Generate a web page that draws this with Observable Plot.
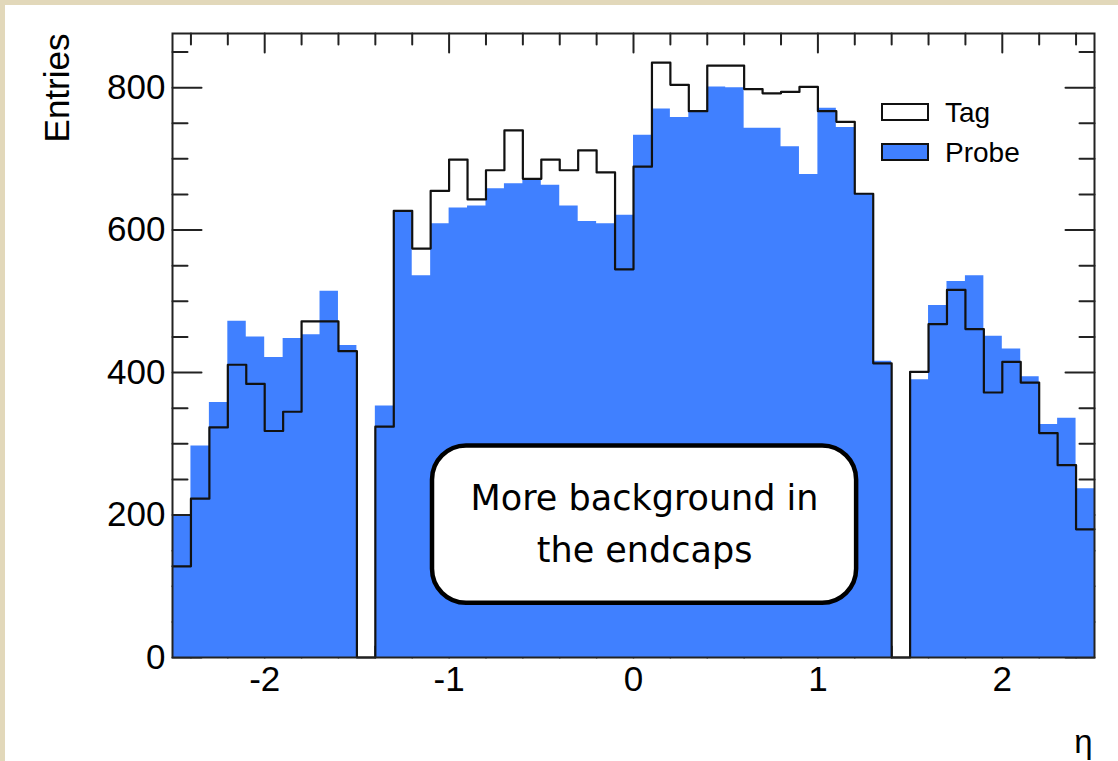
<!DOCTYPE html>
<html>
<head>
<meta charset="utf-8">
<script src="https://cdn.jsdelivr.net/npm/d3@7"></script>
<script src="https://cdn.jsdelivr.net/npm/@observablehq/plot@0.6"></script>
<style>
  html, body { margin: 0; padding: 0; }
  body { background: #e2d8ba; width: 1118px; height: 761px; overflow: hidden; position: relative; }
  #chart { position: absolute; left: 5px; top: 5px; width: 1113px; height: 756px; background: #ffffff; }
  #chart svg { display: block; background: #ffffff; }
</style>
</head>
<body>
<div id="chart"></div>
<script>
// Histogram binning (eta)
const etaMin = -2.5, etaMax = 2.5, nBins = 50;

// Bin contents (50 bins of 0.1 in eta)
const probe = [198, 297, 358, 472, 450, 421, 448, 453, 514, 438,
               0, 353, 627, 536, 609, 631, 634, 658, 665, 670,
               663, 634, 612, 609, 621, 733, 770, 758, 767, 801,
               800, 743, 743, 717, 678, 771, 744, 651, 416, 0,
               390, 494, 528, 536, 451, 433, 394, 327, 336, 237];
const tag   = [128, 223, 323, 411, 384, 318, 345, 472, 472, 430,
               0, 324, 627, 574, 655, 699, 643, 684, 740, 672,
               699, 684, 712, 681, 545, 689, 835, 804, 767, 831,
               831, 798, 792, 794, 801, 767, 752, 651, 413, 0,
               401, 468, 516, 461, 372, 415, 386, 315, 270, 180];

// Axis ticks
const yMajor = [0, 200, 400, 600, 800];
const yMinor = [50, 100, 150, 250, 300, 350, 450, 500, 550, 650, 700, 750, 850];
const xMajor = [-2, -1, 0, 1, 2];
const xMinor = [-2.4, -2.2, -1.8, -1.6, -1.4, -1.2, -0.8, -0.6, -0.4, -0.2,
                0.2, 0.4, 0.6, 0.8, 1.2, 1.4, 1.6, 1.8, 2.2, 2.4];
const yMax = 876;

const seriesNames = ["Tag", "Probe"];
const noteLines = "More background in\nthe endcaps";
// annotation box (data units)
const noteBox = {x1: -1.09, x2: 1.21, y1: 76, y2: 297};

const binW = (etaMax - etaMin) / nBins;
const edges = d3.range(nBins + 1).map(i => +(etaMin + i * binW).toFixed(3));
const probePts = edges.map((x, i) => ({x, y: probe[Math.min(i, nBins - 1)]}));
const tagPts = edges.map((x, i) => ({x, y: tag[Math.min(i, nBins - 1)]}));

const tickShape = {draw(context, l) { context.moveTo(0, 0); context.lineTo(0, -l); }};
const tickStyle = {stroke: "#222", strokeWidth: 2, shape: tickShape, anchor: "start"};

const font = "'Liberation Sans', Arial, Helvetica, sans-serif";

const plot = Plot.plot({
  width: 1113,
  height: 756,
  marginLeft: 167,
  marginRight: 24,
  marginTop: 28,
  marginBottom: 104,
  style: {fontFamily: font, background: "#ffffff", color: "#000"},
  x: {domain: [etaMin, etaMax]},
  y: {domain: [0, yMax]},
  marks: [
    // ticks (drawn under the histograms)
    Plot.vector(yMajor, {x: etaMin, y: d => d, rotate: 90, length: 29, ...tickStyle}),
    Plot.vector(yMinor, {x: etaMin, y: d => d, rotate: 90, length: 15, ...tickStyle}),
    Plot.vector(yMajor, {x: etaMax, y: d => d, rotate: -90, length: 29, ...tickStyle}),
    Plot.vector(yMinor, {x: etaMax, y: d => d, rotate: -90, length: 15, ...tickStyle}),
    Plot.vector(xMajor, {x: d => d, y: yMax, rotate: 180, length: 19, ...tickStyle}),
    Plot.vector(xMinor, {x: d => d, y: yMax, rotate: 180, length: 11, ...tickStyle}),
    Plot.vector(xMajor, {x: d => d, y: 0, rotate: 0, length: 19, ...tickStyle}),
    Plot.vector(xMinor, {x: d => d, y: 0, rotate: 0, length: 11, ...tickStyle}),
    // Probe: filled histogram
    Plot.areaY(probePts, {x: "x", y: "y", curve: "step-after", fill: "#4080ff"}),
    // Tag: outline histogram
    Plot.line(tagPts, {x: "x", y: "y", curve: "step-after", stroke: "#111", strokeWidth: 2.2}),
    Plot.frame({stroke: "#222", strokeWidth: 2}),
    Plot.axisY({ticks: yMajor, tickSize: 0, tickPadding: 7, fontSize: 35, label: null, tickFormat: d => String(d)}),
    Plot.axisX({ticks: xMajor, tickSize: 0, tickPadding: 9, fontSize: 35, label: null, tickFormat: d => String(d)}),
    Plot.text(["Entries"], {text: d => d, frameAnchor: "top-left", rotate: -90, textAnchor: "end",
      dx: -128, dy: 0, fontSize: 35, fill: "#000"}),
    Plot.text(["\u03b7"], {text: d => d, frameAnchor: "bottom-right", textAnchor: "end",
      dx: -2, dy: 95, fontSize: 33, fill: "#000"}),
    // annotation box
    Plot.rect([noteBox], {x1: "x1", x2: "x2", y1: "y1", y2: "y2", rx: 34, fill: "#fff", stroke: "#000", strokeWidth: 4.5}),
    Plot.text([noteLines], {text: d => d, x: (noteBox.x1 + noteBox.x2) / 2, y: (noteBox.y1 + noteBox.y2) / 2,
      dy: -5, fontSize: 35, lineHeight: 1.46, fontFamily: "'DejaVu Sans', sans-serif", fill: "#000"})
  ]
});

document.getElementById("chart").appendChild(plot);

// Legend (inside the plot frame, top right)
const svg = d3.select(plot);
const lg = svg.append("g").attr("font-family", font).attr("font-size", 28).attr("text-anchor", "start");
const legendItems = [
  {name: seriesNames[0], fill: "#ffffff", y: 99},
  {name: seriesNames[1], fill: "#4080ff", y: 139}
];
legendItems.forEach(it => {
  lg.append("rect").attr("x", 877).attr("y", it.y).attr("width", 46).attr("height", 16)
    .attr("fill", it.fill).attr("stroke", "#111").attr("stroke-width", 2);
  lg.append("text").attr("x", 940).attr("y", it.y + 8).attr("dy", "0.35em").attr("fill", "#000").text(it.name);
});
</script>
</body>
</html>
